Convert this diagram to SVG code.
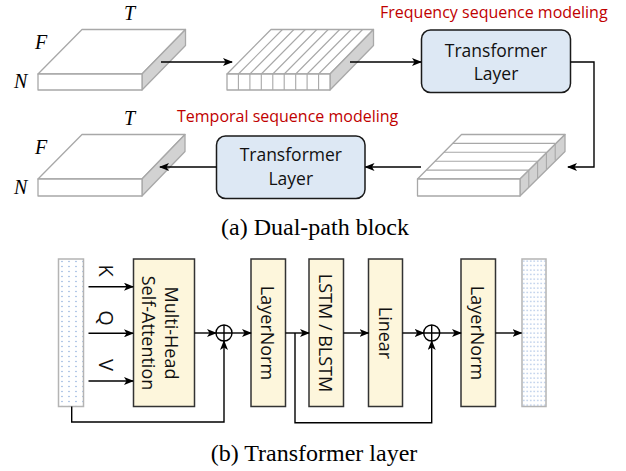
<svg xmlns="http://www.w3.org/2000/svg" width="626" height="471" viewBox="0 0 626 471">
  <style>
    .slab { fill: #ffffff; stroke: #a8a8a8; stroke-width: 1.3; stroke-linejoin: round; }
    .side { fill: #d2d2d2; stroke: #a8a8a8; stroke-width: 1.3; stroke-linejoin: round; }
    .seg { fill: none; stroke: #a8a8a8; stroke-width: 1.1; }
    .dim { font-family: "Liberation Serif", serif; font-style: italic; font-size: 20px; fill: #000; }
    .red { font-family: "Open Sans", "Liberation Sans", sans-serif; font-size: 16px; fill: #c00000; }
    .tl { fill: #dde8f4; stroke: #1a1a1a; stroke-width: 1.5; }
    .tltext { font-family: "Open Sans", "Liberation Sans", sans-serif; font-size: 17.5px; fill: #111; text-anchor: middle; }
    .cap { font-family: "Liberation Serif", serif; font-size: 24px; fill: #000; text-anchor: middle; }
    .blk { fill: #fdf6dc; stroke: #333; stroke-width: 1.5; }
    .vt { font-family: "Open Sans", "Liberation Sans", sans-serif; font-size: 18px; fill: #111; text-anchor: middle; dominant-baseline: central; }
    .kqv { font-family: "Open Sans", "Liberation Sans", sans-serif; font-size: 20px; fill: #111; text-anchor: middle; dominant-baseline: central; }
    .strip { stroke: #b4b4b4; stroke-width: 1.5; }
    .wire { fill: none; stroke: #000; stroke-width: 1.4; }
    .sum { fill: #fff; stroke: #000; stroke-width: 1.4; }
  </style>
  <defs>
    <marker id="arrow" viewBox="0 0 10 8" refX="9" refY="4" markerWidth="10" markerHeight="8" markerUnits="userSpaceOnUse" orient="auto">
      <path d="M0,0 L10,4 L0,8 L2.5,4 z" fill="#000"/>
    </marker>
    <pattern id="dotsSparse" width="7" height="5" patternUnits="userSpaceOnUse" x="58" y="259">
      <rect width="7" height="5" fill="#ffffff"/>
      <circle cx="4" cy="2.5" r="0.65" fill="#7a9fd6"/>
    </pattern>
    <pattern id="dotsDense" width="3.5" height="4.5" patternUnits="userSpaceOnUse" x="522" y="259">
      <rect width="3.5" height="4.5" fill="#ffffff"/>
      <circle cx="1.75" cy="2" r="0.6" fill="#7a9fd6"/>
    </pattern>
  </defs>

  <!-- (a) Dual-path block -->
  <g id="tensor-input">
    <polygon class="slab" points="38,74 82,29.5 185.5,29.5 142,74"/>
    <polygon class="side" points="142,74 185.5,29.5 185.5,45.5 142,90"/>
    <rect class="slab" x="38" y="74" width="104" height="16"/>
    <text class="dim" x="124" y="20">T</text>
    <text class="dim" x="35" y="49">F</text>
    <text class="dim" x="14" y="88">N</text>
  </g>

  <g id="tensor-freq-split">
    <polygon class="slab" points="227,74 271,29.5 373.5,29.5 330,74"/>
    <polygon class="side" points="330,74 373.5,29.5 373.5,45.5 330,90"/>
    <rect class="slab" x="227" y="74" width="103" height="16"/>
    <path class="seg" d="M238.4,74 V90 M249.9,74 V90 M261.3,74 V90 M272.8,74 V90 M284.2,74 V90 M295.7,74 V90 M307.1,74 V90 M318.6,74 V90
                         M238.4,74 L282.4,29.5 M249.9,74 L293.9,29.5 M261.3,74 L305.3,29.5 M272.8,74 L316.8,29.5 M284.2,74 L328.2,29.5 M295.7,74 L339.7,29.5 M307.1,74 L351.1,29.5 M318.6,74 L362.6,29.5"/>
  </g>

  <g id="freq-transformer">
    <rect class="tl" x="421.5" y="30" width="149" height="62.5" rx="9"/>
    <text class="tltext" x="496" y="56.5">Transformer</text>
    <text class="tltext" x="496" y="80">Layer</text>
  </g>
  <text class="red" x="380" y="18">Frequency sequence modeling</text>

  <g id="tensor-time-split">
    <polygon class="slab" points="417.5,179 461.5,134.5 565,134.5 520,179"/>
    <polygon class="side" points="520,179 565,134.5 565,151.5 520,196"/>
    <rect class="slab" x="417.5" y="179" width="102.5" height="17"/>
    <path class="seg" d="M426.3,170.1 H528.8 M435.1,161.2 H537.6 M443.9,152.3 H546.4 M452.7,143.4 H555.2
                         M528.8,170.1 V187.1 M537.6,161.2 V178.2 M546.4,152.3 V169.3 M555.2,143.4 V160.4"/>
  </g>

  <g id="time-transformer">
    <rect class="tl" x="216.5" y="136" width="148.5" height="62.5" rx="9"/>
    <text class="tltext" x="290.8" y="161">Transformer</text>
    <text class="tltext" x="290.8" y="185">Layer</text>
  </g>
  <text class="red" x="177" y="122">Temporal sequence modeling</text>

  <g id="tensor-output">
    <polygon class="slab" points="38,179 82,134.5 185,134.5 142,179"/>
    <polygon class="side" points="142,179 185,134.5 185,151.5 142,196"/>
    <rect class="slab" x="38" y="179" width="104" height="17"/>
    <text class="dim" x="124" y="125">T</text>
    <text class="dim" x="35" y="154">F</text>
    <text class="dim" x="14" y="194">N</text>
  </g>

  <text class="cap" x="315" y="235">(a) Dual-path block</text>

  <!-- (b) Transformer layer -->
  <g id="layer-input">
    <rect class="strip" x="58.5" y="259" width="25" height="147.5" fill="url(#dotsSparse)"/>
  </g>
  <g id="mhsa">
    <rect class="blk" x="133.5" y="259" width="61" height="147.5"/>
    <text class="vt" transform="translate(172,333) rotate(90)">Multi-Head</text>
    <text class="vt" transform="translate(149,333) rotate(90)">Self-Attention</text>
  </g>
  <g id="add-1">
    <circle class="sum" cx="224" cy="333" r="8"/>
    <path class="wire" d="M216,333 H232 M224,325 V341"/>
  </g>
  <g id="layernorm-1">
    <rect class="blk" x="251" y="259" width="34.5" height="147.5"/>
    <text class="vt" transform="translate(268.3,333) rotate(90)">LayerNorm</text>
  </g>
  <g id="lstm">
    <rect class="blk" x="309" y="259" width="34.5" height="147.5"/>
    <text class="vt" transform="translate(326.3,333) rotate(90)">LSTM / BLSTM</text>
  </g>
  <g id="linear">
    <rect class="blk" x="368.5" y="259" width="34" height="147.5"/>
    <text class="vt" transform="translate(385.5,333) rotate(90)">Linear</text>
  </g>
  <g id="add-2">
    <circle class="sum" cx="431.7" cy="333" r="8"/>
    <path class="wire" d="M423.7,333 H439.7 M431.7,325 V341"/>
  </g>
  <g id="layernorm-2">
    <rect class="blk" x="461" y="259" width="34.5" height="147.5"/>
    <text class="vt" transform="translate(478.2,333) rotate(90)">LayerNorm</text>
  </g>
  <g id="layer-output">
    <rect class="strip" x="522" y="259" width="24" height="147.5" fill="url(#dotsDense)"/>
  </g>

  <text class="kqv" transform="translate(106,270.5) rotate(90)">K</text>
  <text class="kqv" transform="translate(106,318) rotate(90)">Q</text>
  <text class="kqv" transform="translate(106,365) rotate(90)">V</text>

  <text class="cap" x="314" y="461">(b) Transformer layer</text>

  <!-- connectors -->
  <g id="connectors">
    <line class="wire" x1="161" y1="62" x2="232" y2="62" marker-end="url(#arrow)"/>
    <line class="wire" x1="350" y1="62" x2="421" y2="62" marker-end="url(#arrow)"/>
    <polyline class="wire" points="570.5,62 594,62 594,167 568,167" marker-end="url(#arrow)"/>
    <line class="wire" x1="421" y1="167" x2="365.5" y2="167" marker-end="url(#arrow)"/>
    <line class="wire" x1="216.5" y1="167" x2="160" y2="167" marker-end="url(#arrow)"/>

    <line class="wire" x1="88.5" y1="286.7" x2="133" y2="286.7" marker-end="url(#arrow)"/>
    <line class="wire" x1="88.5" y1="333.3" x2="133" y2="333.3" marker-end="url(#arrow)"/>
    <line class="wire" x1="88.5" y1="381" x2="133" y2="381" marker-end="url(#arrow)"/>
    <line class="wire" x1="194.5" y1="333" x2="216" y2="333" marker-end="url(#arrow)"/>
    <polyline class="wire" points="71.7,406.5 71.7,422 224,422 224,341" marker-end="url(#arrow)"/>
    <line class="wire" x1="232" y1="333" x2="251" y2="333" marker-end="url(#arrow)"/>
    <line class="wire" x1="285.5" y1="333" x2="309" y2="333" marker-end="url(#arrow)"/>
    <polyline class="wire" points="295,333 295,422.7 431.7,422.7 431.7,341" marker-end="url(#arrow)"/>
    <line class="wire" x1="343.5" y1="333" x2="368.5" y2="333" marker-end="url(#arrow)"/>
    <line class="wire" x1="402.5" y1="333" x2="423.7" y2="333" marker-end="url(#arrow)"/>
    <line class="wire" x1="439.7" y1="333" x2="461" y2="333" marker-end="url(#arrow)"/>
    <line class="wire" x1="495.5" y1="333" x2="521.5" y2="333" marker-end="url(#arrow)"/>
  </g>
</svg>
